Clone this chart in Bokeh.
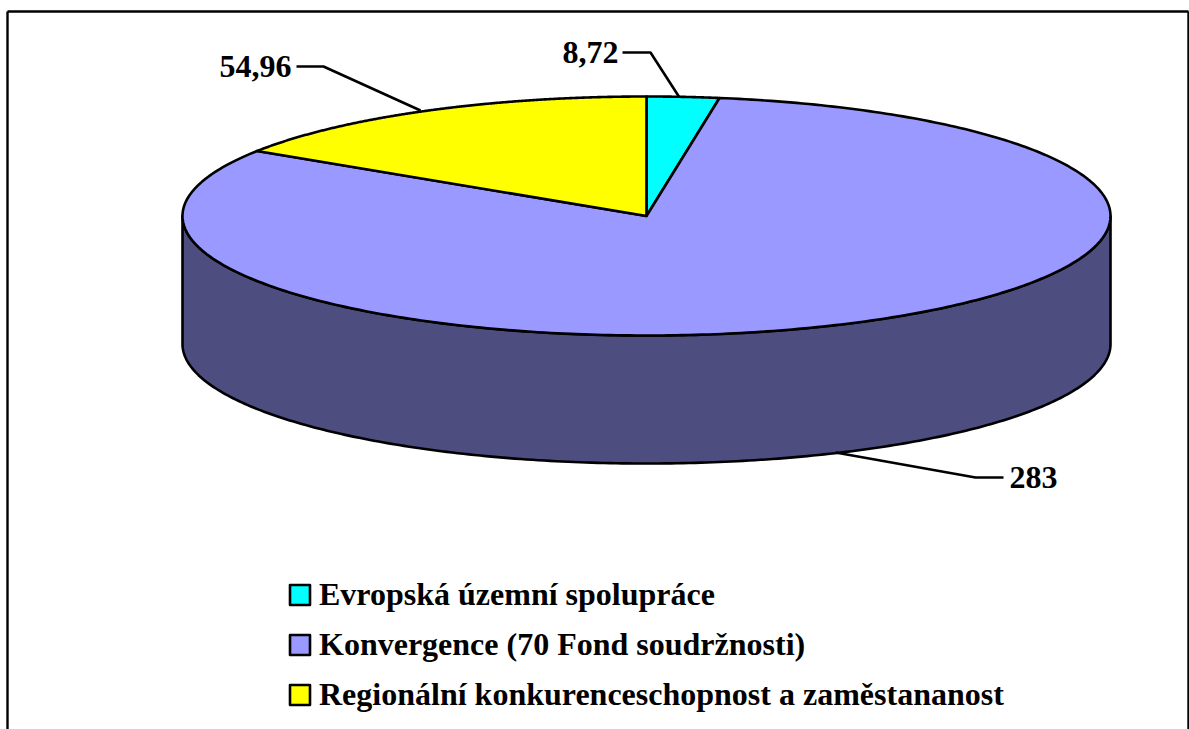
import numpy as np
from bokeh.plotting import figure
from bokeh.models import Range1d, Legend, LegendItem
from bokeh.core.properties import value
from bokeh.embed import file_html
from bokeh.resources import INLINE

categories = ["Evropská územní spolupráce", "Konvergence (70 Fond soudržnosti)",
              "Regionální konkurenceschopnost a zaměstananost"]
values = [8.72, 283, 54.96]
labels = ["8,72", "283", "54,96"]
colors = ["#00FFFF", "#9999FF", "#FFFF00"]
side_color = "#4D4D80"

W, H = 1189, 729
CX, CY, RX, RY, DEPTH = 646.0, 215.5, 464.0, 119.5, 128.0
FONT = "Liberation Serif"
LW = 2.6

p = figure(width=W, height=H, x_range=Range1d(0, W), y_range=Range1d(H, 0),
           output_backend="svg", toolbar_location=None, min_border=0,
           background_fill_color="white",
           border_fill_color="white", outline_line_color=None)
p.axis.visible = False
p.grid.visible = False

# frame (bottom edge runs off the page)
p.line([7, 7], [11, H + 5], line_color="black", line_width=2.4)
p.line([7, 1188], [11, 11], line_color="black", line_width=2.4)
p.line([1188, 1188], [11, H + 5], line_color="black", line_width=2.4)


def ell(a):
    """a = clockwise angle from 12 o'clock, in radians"""
    return CX + RX * np.sin(a), CY - RY * np.cos(a)


# side wall
a = np.linspace(np.pi / 2, 3 * np.pi / 2, 241)
xs, ys = ell(a)
p.patch(np.r_[xs, xs[::-1]], np.r_[ys, ys[::-1] + DEPTH], fill_color=side_color,
        line_color="black", line_width=LW, line_join="round")

# top slices, clockwise from 12 o'clock
fr = np.cumsum([0] + values) / sum(values) * 2 * np.pi
rends = []
for i, c in enumerate(colors):
    a = np.linspace(fr[i], fr[i + 1], 361)
    xs, ys = ell(a)
    rends.append(p.patch(np.r_[CX, xs], np.r_[CY, ys], fill_color=c, line_color="black",
                         line_width=LW, line_join="round"))

# leader lines
leader_x = [[622, 650, 679], [1003, 975, 835], [296, 323, 420]]
leader_y = [[52, 52, 97], [477, 477, 452], [66, 66, 110]]
p.multi_line(leader_x, leader_y, line_color="black", line_width=LW)

# data labels
p.text(x=[562, 1009, 219], y=[52, 477, 66], text=labels, text_font=value(FONT),
       text_font_style="bold", text_font_size="32px", text_color="black",
       text_align="left", text_baseline="alphabetic")

legend = Legend(items=[LegendItem(label=categories[i], renderers=[rends[i]]) for i in range(3)],
                location=(287, 729 - 713), orientation="vertical", border_line_color=None,
                background_fill_alpha=0, margin=0, padding=0, spacing=13,
                glyph_width=25, glyph_height=25, label_standoff=7, label_height=22,
                label_text_font=FONT, label_text_font_style="bold",
                label_text_font_size="32px", label_text_color="black")
p.add_layout(legend, "center")

open("out.html", "w").write(file_html(p, INLINE))
